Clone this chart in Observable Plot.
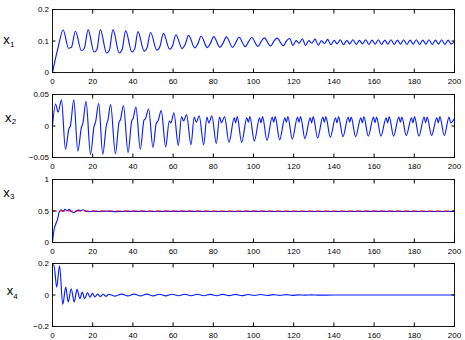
<!DOCTYPE html>
<html>
<head>
<meta charset="utf-8">
<script src="https://cdn.jsdelivr.net/npm/d3@7"></script>
<script src="https://cdn.jsdelivr.net/npm/@observablehq/plot@0.6"></script>
<style>
  html, body { margin: 0; padding: 0; background: #fff; }
  #root { position: relative; width: 465px; height: 340px; overflow: hidden; background: #fff; }
  #root > .panel { position: absolute; left: 0; }
  #labels { position: absolute; left: 0; top: 0; pointer-events: none; }
</style>
</head>
<body>
<div id="root"></div>
<script>
// ---------- data ----------
const xTicks = [0, 20, 40, 60, 80, 100, 120, 140, 160, 180, 200];
const yTicks1 = [0, 0.1, 0.2];
const yTicks2 = [-0.05, 0, 0.05];
const yTicks3 = [0, 0.5, 1];
const yTicks4 = [-0.2, 0, 0.2];
const seriesNames = ["x1", "x2", "x3", "x4"];
const x3Target = [0.5];

// x1: [t, value]
const x1Data = [
  [0,0],[1.5,0.045],[2.8,0.080],[5.3,0.135],[8.0,0.077],[9.4,0.080],[11.4,0.131],
  [14.4,0.069],[15.8,0.076],[17.7,0.136],[20.7,0.065],[22.1,0.073],[23.8,0.136],
  [26.9,0.062],[28.3,0.071],[30.1,0.136],[33.2,0.062],[34.6,0.072],[36.4,0.133],
  [39.5,0.065],[40.9,0.075],[42.5,0.130],[45.6,0.068],[47.0,0.078],[48.8,0.127],
  [51.9,0.071],[53.4,0.082],[55.2,0.124],[58.3,0.074],[59.8,0.086],[61.4,0.120],
  [64.5,0.076],[66.0,0.089],[67.7,0.118],[70.8,0.078],[72.3,0.091],[73.9,0.116],
  [77.0,0.079],[78.6,0.093],[80.2,0.114],[83.3,0.080],[84.9,0.094],[86.5,0.113],
  [89.6,0.080],[91.2,0.095],[92.8,0.112],[95.9,0.082],[97.5,0.097],[99.1,0.111],
  [102.2,0.083],[103.8,0.098],[105.4,0.110],[108.5,0.084],[110.1,0.099],[111.7,0.109],
  [114.8,0.085],[116.4,0.100],[118.0,0.108],
  [119.6,0.086],[121.2,0.101],[122.7,0.093],[124.3,0.107],
  [125.9,0.086],[127.5,0.101],[129.0,0.093],[130.6,0.106],
  [132.2,0.087],[133.8,0.101],[135.3,0.092],[136.9,0.105],
  [138.5,0.088],[140.1,0.102],[141.6,0.091],[143.2,0.104],
  [144.8,0.088],[146.4,0.102],[147.9,0.091],[149.5,0.104],
  [151.1,0.089],[152.7,0.102],[154.2,0.091],[155.8,0.104],
  [157.4,0.089],[159.0,0.103],[160.5,0.090],[162.1,0.104],
  [163.7,0.089],[165.3,0.103],[166.8,0.090],[168.4,0.104],
  [170.0,0.089],[171.6,0.103],[173.1,0.090],[174.7,0.104],
  [176.3,0.089],[177.9,0.103],[179.4,0.090],[181.0,0.104],
  [182.6,0.089],[184.2,0.103],[185.7,0.090],[187.3,0.104],
  [188.9,0.089],[190.5,0.103],[192.0,0.090],[193.6,0.104],
  [195.2,0.089],[196.8,0.103],[198.3,0.090],[200,0.100]
];

// x2: [t, value]
const x2Data = [
  [0,0],[1.5,0.035],[2.8,0.022],[4.45,0.0415],[6.44,-0.037],[8.2,-0.004],[8.9,0.000],
  [10.6,0.0415],[12.6,-0.040],[14.4,-0.002],[15.1,0.004],[16.7,0.039],[18.9,-0.045],
  [20.7,0.000],[21.4,0.006],[23.0,0.036],[25.0,-0.045],[26.9,0.003],[27.5,0.008],
  [28.9,0.034],[31.3,-0.044],[33.1,0.006],[33.8,0.010],[35.3,0.0325],[37.6,-0.042],
  [39.4,0.008],[40.1,0.012],[41.5,0.030],[43.7,-0.037],[45.5,0.009],[46.3,0.012],
  [47.8,0.027],[50.0,-0.034],[51.6,0.004],[52.5,0.008],[54.1,0.0245],[56.3,-0.033],
  [58.1,0.008],[58.9,0.005],[60.4,0.021],[62.6,-0.031],[64.2,0.015],[65.2,0.008],
  [66.7,0.018],[68.9,-0.030],[70.5,0.014],[71.5,0.006],[73.0,0.016],[75.2,-0.030],
  [76.8,0.014],[77.8,0.005],[79.3,0.016],[81.5,-0.028],[83.1,0.014],[84.1,0.005],
  [85.6,0.015],[87.8,-0.026],[90.4,0.013],[91.15,0.005],[91.9,0.015],
  [94.1,-0.026],[96.7,0.013],[97.45,0.006],[98.2,0.015],
  [100.4,-0.024],[103.0,0.013],[103.75,0.005],[104.5,0.015],
  [106.7,-0.023],[109.3,0.014],[110.05,0.006],[110.8,0.015],
  [113.0,-0.022],[115.6,0.013],[116.35,0.006],[117.1,0.015],
  [119.3,-0.021],[121.9,0.014],[122.65,0.006],[123.4,0.015],
  [125.6,-0.020],[128.2,0.013],[128.95,0.005],[129.7,0.015],
  [131.9,-0.019],[134.5,0.014],[135.25,0.006],[136.0,0.015],
  [138.2,-0.018],[140.8,0.013],[141.55,0.005],[142.3,0.015],
  [144.5,-0.017],[147.1,0.014],[147.85,0.006],[148.6,0.014],
  [150.8,-0.017],[153.4,0.013],[154.15,0.005],[154.9,0.015],
  [157.1,-0.016],[159.7,0.014],[160.45,0.005],[161.2,0.014],
  [163.4,-0.016],[166.0,0.013],[166.75,0.005],[167.5,0.015],
  [169.7,-0.016],[172.3,0.014],[173.05,0.006],[173.8,0.014],
  [176.0,-0.015],[178.6,0.013],[179.35,0.005],[180.1,0.015],
  [182.3,-0.016],[184.9,0.014],[185.65,0.005],[186.4,0.014],
  [188.6,-0.015],[191.2,0.013],[191.95,0.005],[192.7,0.015],
  [194.9,-0.015],[197.3,0.014],[198.1,0.005],[200,0.012]
];

// x3: [t, value]
const x3Data = [
  [0,0],[0.8,0.21],[1.6,0.29],[2.5,0.37],[3.3,0.48],[4.3,0.52],[5.2,0.495],
  [6.2,0.525],[7.2,0.50],[8.3,0.525],[9.4,0.49],[10.6,0.475],[11.7,0.50],
  [12.8,0.515],[14.0,0.505],[15.2,0.52],[16.4,0.50],[18,0.488],[20,0.497],
  [23,0.492],[27,0.497],[32,0.491],[40,0.495],[50,0.492],[60,0.494],
  [80,0.492],[100,0.493],[130,0.492],[160,0.493],[200,0.492]
];

// x4: [t, value]
const x4Data = [
  [0,0.19],[0.7,0.19],[2.1,0.05],[3.5,0.186],[5.1,-0.06],[6.6,0.05],[7.8,-0.044],
  [9.3,0.04],[10.8,-0.044],[12.2,0.036],[13.6,-0.023],[14.8,0.019],[16.0,-0.023],
  [17.4,0.015],[18.7,-0.014],[19.9,0.010],[21.1,-0.013],[22.4,0.006],[23.8,-0.010],
  [25.2,0.005],[26.6,-0.008],[28.0,0.005],[31.2,-0.007],[34.3,0.006],[37.5,-0.006],
  [40.6,0.006],[43.8,-0.006],[46.9,0.006],[50.1,-0.006],[53.2,0.005],[56.4,-0.006],
  [59.5,0.005],[62.7,-0.005],[65.8,0.005],[69.0,-0.005],[72.1,0.005],[75.3,-0.005],
  [78.4,0.004],[81.6,-0.005],[84.7,0.004],[87.9,-0.004],[91.0,0.004],[94.2,-0.004],
  [97.3,0.003],[100.5,-0.003],[103.6,0.003],[106.8,-0.003],[109.9,0.002],[113.1,-0.002],
  [116.2,0.002],[119.4,-0.002],[122.5,0.001],[125.7,-0.001],[128.8,0.001],[132.0,-0.001],
  [140,0],[200,0]
];

// ---------- drawing ----------
const root = document.getElementById("root");
const blue = "#0a1eff";
const fontFamily = "'Liberation Sans', Arial, Helvetica, sans-serif";
const fmt = d => (d < 0 ? "\u2212" : "") + String(Math.abs(d));
const empty = () => "";

function panel(data, yDomain, yTicks, top, extraMarks = []) {
  const svg = Plot.plot({
    width: 465, height: 85,
    marginLeft: 52, marginRight: 11, marginTop: 9, marginBottom: 13,
    style: { fontFamily, fontSize: "8px", background: "transparent", color: "black", overflow: "visible" },
    x: { domain: [0, 200] },
    y: { domain: yDomain },
    marks: [
      Plot.line(data, { x: d => d[0], y: d => d[1], stroke: blue, strokeWidth: 1.15, curve: "monotone-x" }),
      ...extraMarks,
      Plot.frame({ stroke: "black", strokeWidth: 0.9 }),
      Plot.axisX({ anchor: "bottom", ticks: xTicks, tickSize: -3.5, tickPadding: 9.5, label: null, tickFormat: d => String(d) }),
      Plot.axisX({ anchor: "top", ticks: xTicks, tickSize: -3.5, tickFormat: empty, label: null }),
      Plot.axisY({ anchor: "left", ticks: yTicks, tickSize: -3.5, tickPadding: 7, label: null, tickFormat: fmt }),
      Plot.axisY({ anchor: "right", ticks: yTicks, tickSize: -3.5, tickFormat: empty, label: null })
    ]
  });
  svg.classList.add("panel");
  svg.style.top = top + "px";
  root.appendChild(svg);
}

panel(x1Data, [0, 0.2], yTicks1, 0);
panel(x2Data, [-0.05, 0.05], yTicks2, 85);
panel(x3Data, [0, 1], yTicks3, 170, [
  Plot.ruleY(x3Target, { stroke: "#ff0000", strokeWidth: 1, strokeDasharray: "5,3" })
]);
panel(x4Data, [-0.2, 0.2], yTicks4, 254);

// y labels "x" with subscript index
const labelPos = [
  { x: 3.3, y: 44.3, sx: 10.0, sy: 46.8 },
  { x: 5.0, y: 122.0, sx: 11.7, sy: 124.3 },
  { x: 3.3, y: 196.7, sx: 10.0, sy: 199.3 },
  { x: 6.7, y: 295.0, sx: 13.3, sy: 299.3 }
];
const ns = "http://www.w3.org/2000/svg";
const lab = document.createElementNS(ns, "svg");
lab.setAttribute("id", "labels");
lab.setAttribute("width", 465);
lab.setAttribute("height", 340);
seriesNames.forEach((name, i) => {
  const p = labelPos[i];
  const t = document.createElementNS(ns, "text");
  t.setAttribute("x", p.x); t.setAttribute("y", p.y);
  t.setAttribute("font-family", fontFamily); t.setAttribute("font-size", "13");
  t.textContent = name[0];
  const s = document.createElementNS(ns, "text");
  s.setAttribute("x", p.sx); s.setAttribute("y", p.sy);
  s.setAttribute("font-family", fontFamily); s.setAttribute("font-size", "8");
  s.textContent = name.slice(1);
  lab.appendChild(t); lab.appendChild(s);
});
root.appendChild(lab);
</script>
</body>
</html>
